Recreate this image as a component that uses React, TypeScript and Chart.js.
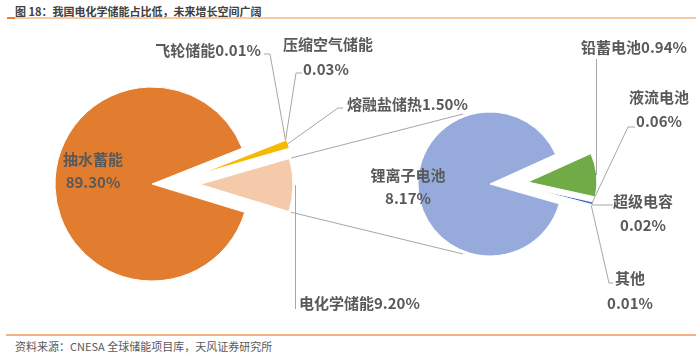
import React, { useEffect, useRef } from 'react';
import { Chart, registerables } from 'chart.js';

Chart.register(...registerables);

// ---------- data ----------
const mainLabels = ['抽水蓄能', '飞轮储能', '压缩空气储能', '熔融盐储热', '电化学储能'];
const mainValues = [89.3, 0.01, 0.03, 1.5, 9.2];
const subLabels = ['锂离子电池', '铅蓄电池', '液流电池', '超级电容', '其他'];
const subValues = [8.17, 0.94, 0.06, 0.02, 0.01];

const titleText = '图 18：我国电化学储能占比低，未来增长空间广阔';
const sourceText = '资料来源：CNESA 全球储能项目库，天风证券研究所';

// ---------- style ----------
const mainColors = ['#E27C2E', '#A5A5A5', '#5B9BD5', '#F4B900', '#F5CAAB'];
const subColors = ['#96ABDB', '#71AB48', '#3E6BB8', '#264478', '#A5A5A5'];

const FONT_FAMILY = '"Noto Sans CJK SC", "Noto Sans", sans-serif';
const LABEL_FONT = `bold 15px ${FONT_FAMILY}`;
const LABEL_COLOR = '#595959';
const LEADER_COLOR = '#A6A6A6';

const pct = (v: number) => v.toFixed(2) + '%';

type Explode = { dist: number[]; dir: (number | null)[]; radius: (number | null)[] };

const mainExplode: Explode = {
  dist: [0, 49, 49, 49, 48],
  dir: [null, -11.8, -11.8, -11.8, null],
  radius: [null, 93, 93, 93, 93],
};
const subExplode: Explode = {
  dist: [0, 38, 36, 36, 36],
  dir: [null, -3, 5, 5, 5],
  radius: [null, 69, 69, 69, 69],
};

type LabelSpec = {
  xs: number[];
  ys: number[];
  align: CanvasTextAlign;
  split: boolean;
  leader?: number[][];
  drop?: { dx: number; y: number };
};

const mainLayout: LabelSpec[] = [
  { xs: [93, 93], ys: [159, 182], align: 'center', split: true },
  { xs: [261], ys: [50], align: 'right', split: false, leader: [[264, 54], [270, 54]] },
  { xs: [283, 303], ys: [44, 69], align: 'left', split: true, leader: [[302, 73], [296, 73]] },
  { xs: [347], ys: [104], align: 'left', split: false, leader: [[343, 108], [338, 108]] },
  { xs: [299], ys: [303], align: 'left', split: false, drop: { dx: 3, y: 309 } },
];
const subLayout: LabelSpec[] = [
  { xs: [408, 408], ys: [175, 198], align: 'center', split: true },
  { xs: [634], ys: [47], align: 'center', split: false, drop: { dx: 0, y: 59 } },
  { xs: [659, 659], ys: [97, 121], align: 'center', split: true, leader: [[635, 127], [628, 127]] },
  { xs: [643, 643], ys: [201, 225], align: 'center', split: true, leader: [[613, 205], [606, 205]] },
  { xs: [630, 630], ys: [278, 303], align: 'center', split: true, leader: [[613, 283], [609, 283]] },
];

function explodePlugin(cfg: Explode) {
  return {
    id: 'explode',
    afterDatasetsUpdate(chart: any) {
      const meta = chart.getDatasetMeta(0);
      meta.data.forEach((el: any, i: number) => {
        const mid = (el.startAngle + el.endAngle) / 2;
        const d = cfg.dir[i];
        const a = d == null ? mid : (d * Math.PI) / 180;
        const dist = cfg.dist[i] || 0;
        el.x += Math.cos(a) * dist;
        el.y += Math.sin(a) * dist;
        const r = cfg.radius[i];
        if (r != null) el.outerRadius = r;
      });
    },
  };
}

function outerMid(el: any, dr = 0) {
  const mid = (el.startAngle + el.endAngle) / 2;
  const r = el.outerRadius + dr;
  return { x: el.x + Math.cos(mid) * r, y: el.y + Math.sin(mid) * r };
}

function labelPlugin(labels: string[], values: number[], layout: LabelSpec[], extra?: (ctx: CanvasRenderingContext2D, chart: any) => void) {
  return {
    id: 'labels',
    afterDraw(chart: any) {
      const ctx: CanvasRenderingContext2D = chart.ctx;
      const meta = chart.getDatasetMeta(0);
      ctx.save();
      ctx.strokeStyle = LEADER_COLOR;
      ctx.lineWidth = 1;
      layout.forEach((spec, i) => {
        const el = meta.data[i];
        const anchor = outerMid(el, -1);
        if (spec.leader) {
          ctx.beginPath();
          ctx.moveTo(spec.leader[0][0], spec.leader[0][1]);
          for (let k = 1; k < spec.leader.length; k++) ctx.lineTo(spec.leader[k][0], spec.leader[k][1]);
          ctx.lineTo(anchor.x, anchor.y);
          ctx.stroke();
        }
        if (spec.drop) {
          const x = Math.round(anchor.x + spec.drop.dx) + 0.5;
          ctx.beginPath();
          ctx.moveTo(x, anchor.y);
          ctx.lineTo(x, spec.drop.y);
          ctx.stroke();
        }
      });
      if (extra) extra(ctx, chart);
      ctx.fillStyle = LABEL_COLOR;
      ctx.font = LABEL_FONT;
      ctx.textBaseline = 'middle';
      layout.forEach((spec, i) => {
        const lines = spec.split ? [labels[i], pct(values[i])] : [labels[i] + pct(values[i])];
        ctx.textAlign = spec.align;
        lines.forEach((t, k) => ctx.fillText(t, spec.xs[k], spec.ys[k]));
      });
      ctx.restore();
    },
  };
}

export default function App() {
  const leftRef = useRef<HTMLCanvasElement>(null);
  const rightRef = useRef<HTMLCanvasElement>(null);

  useEffect(() => {
    if (!leftRef.current || !rightRef.current) return;
    const left = new Chart(leftRef.current, {
      type: 'pie',
      data: {
        labels: mainLabels,
        datasets: [
          { data: mainValues, backgroundColor: mainColors, borderColor: '#ffffff', borderWidth: 1, radius: 97, rotation: 107 } as any,
        ],
      },
      options: {
        responsive: false,
        animation: false,
        events: [],
        layout: { padding: { left: 0, right: 396, top: 84, bottom: 71 } },
        plugins: { legend: { display: false }, tooltip: { enabled: false } },
      },
      plugins: [explodePlugin(mainExplode), labelPlugin(mainLabels, mainValues, mainLayout)],
    });

    const seriesLines = (ctx: CanvasRenderingContext2D, chart: any) => {
      const peach: any = left.getDatasetMeta(0).data[4];
      const blue: any = chart.getDatasetMeta(0).data[0];
      if (!peach || !blue) return;
      const R = blue.outerRadius + 3;
      const tA = (-111 * Math.PI) / 180;
      const bA = (111 * Math.PI) / 180;
      ctx.beginPath();
      ctx.moveTo(peach.x + Math.cos(peach.startAngle) * (peach.outerRadius + 2), peach.y + Math.sin(peach.startAngle) * (peach.outerRadius + 2));
      ctx.lineTo(blue.x + Math.cos(tA) * R, blue.y + Math.sin(tA) * R);
      ctx.moveTo(peach.x + Math.cos(peach.endAngle) * (peach.outerRadius + 2), peach.y + Math.sin(peach.endAngle) * (peach.outerRadius + 2));
      ctx.lineTo(blue.x + Math.cos(bA) * R, blue.y + Math.sin(bA) * R);
      ctx.stroke();
    };

    const right = new Chart(rightRef.current, {
      type: 'pie',
      data: {
        labels: subLabels,
        datasets: [
          { data: subValues, backgroundColor: subColors, borderColor: '#ffffff', borderWidth: 1, radius: 72, rotation: 106 } as any,
        ],
      },
      options: {
        responsive: false,
        animation: false,
        events: [],
        layout: { padding: { left: 390, right: 110, top: 84, bottom: 71 } },
        plugins: { legend: { display: false }, tooltip: { enabled: false } },
      },
      plugins: [explodePlugin(subExplode), labelPlugin(subLabels, subValues, subLayout, seriesLines)],
    });

    return () => {
      right.destroy();
      left.destroy();
    };
  }, []);

  return (
    <div style={{ position: 'absolute', left: 0, top: 0, width: 700, height: 355, background: '#fff', overflow: 'hidden' }}>
      <div
        style={{
          position: 'absolute', left: 15, top: 3, height: 12, lineHeight: '12px', whiteSpace: 'nowrap',
          font: `bold 11px ${FONT_FAMILY}`, color: '#404040',
        }}
      >
        {titleText}
      </div>
      <div style={{ position: 'absolute', left: 7, top: 17, width: 689, height: 2, background: '#F9CBA5' }} />
      <div style={{ position: 'absolute', left: 7, top: 17, width: 8, height: 2, background: '#ED7D31' }} />
      <div style={{ position: 'absolute', left: 6, top: 334, width: 690, height: 2, background: '#F4B183' }} />
      <div
        style={{
          position: 'absolute', left: 15, top: 338, height: 12, lineHeight: '12px', whiteSpace: 'nowrap',
          font: `11px ${FONT_FAMILY}`, color: '#595959',
        }}
      >
        {sourceText}
      </div>
      <canvas ref={leftRef} width={700} height={355} style={{ position: 'absolute', left: 0, top: 0 }} />
      <canvas ref={rightRef} width={700} height={355} style={{ position: 'absolute', left: 0, top: 0 }} />
    </div>
  );
}
